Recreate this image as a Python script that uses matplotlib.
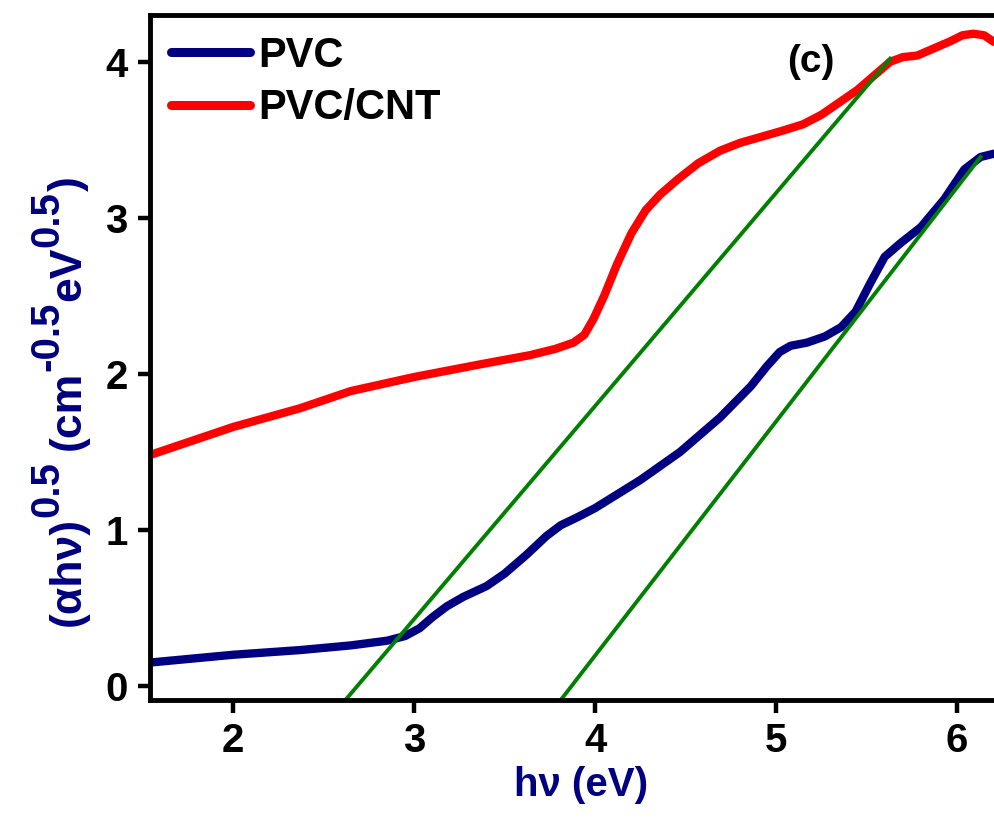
import matplotlib
matplotlib.use("Agg")
import matplotlib.pyplot as plt
from matplotlib.transforms import IdentityTransform

# photon energy (eV) and (alpha h nu)^0.5
pvc_x = [1.54, 2.0, 2.37, 2.65, 2.85, 2.95, 3.03, 3.10, 3.18, 3.27, 3.40,
         3.50, 3.62, 3.73, 3.81, 3.90, 4.0, 4.25, 4.47, 4.69, 4.86, 4.95,
         5.02, 5.08, 5.17, 5.27, 5.36, 5.44, 5.52, 5.60, 5.69, 5.80, 5.93,
         6.04, 6.13, 6.20, 6.30]
pvc_y = [0.15, 0.20, 0.23, 0.26, 0.29, 0.32, 0.37, 0.44, 0.51, 0.57, 0.64,
         0.72, 0.84, 0.96, 1.03, 1.08, 1.14, 1.32, 1.50, 1.72, 1.92, 2.05,
         2.14, 2.18, 2.20, 2.24, 2.30, 2.40, 2.58, 2.75, 2.84, 2.94, 3.12,
         3.31, 3.39, 3.41, 3.42]

cnt_x = [1.54, 2.0, 2.37, 2.65, 3.0, 3.36, 3.64, 3.78, 3.88, 3.94, 3.99,
         4.05, 4.12, 4.20, 4.28, 4.36, 4.46, 4.57, 4.69, 4.80, 4.92, 5.04,
         5.15, 5.25, 5.35, 5.45, 5.55, 5.63, 5.70, 5.78, 5.88, 5.96, 6.03,
         6.09, 6.15, 6.20, 6.30]
cnt_y = [1.48, 1.66, 1.78, 1.89, 1.98, 2.06, 2.12, 2.16, 2.20, 2.25, 2.35,
         2.50, 2.70, 2.90, 3.05, 3.15, 3.25, 3.35, 3.43, 3.48, 3.52, 3.56,
         3.60, 3.66, 3.74, 3.82, 3.92, 4.00, 4.03, 4.04, 4.09, 4.13, 4.17,
         4.18, 4.17, 4.13, 4.10]

# tangent (Tauc) lines
fit1_x = [2.62, 5.63]
fit1_y = [-0.09, 4.02]
fit2_x = [3.81, 6.13]
fit2_y = [-0.09, 3.39]

x_ticks = [2, 3, 4, 5, 6]
y_ticks = [0, 1, 2, 3, 4]

# y label pieces: (text, is_superscript)
ylabel_parts = [('(αhν)', False), ('0.5', True), (' ', False), ('(cm', False),
                ('-0.5', True), ('eV', False), ('0.5', True), (')', False)]

plt.rcParams['font.family'] = ['Liberation Sans', 'DejaVu Sans']
plt.rcParams['font.weight'] = 'bold'

navy = '#000080'

fig = plt.figure(figsize=(9.94, 8.23), dpi=100)
x0, x1 = 1.54, 6.30
left_px, bottom_px, top_px = 150, 700, 15
right_px = 233 + (x1 - 2) * 181
ax = fig.add_axes([left_px / 994, 1 - bottom_px / 823,
                   (right_px - left_px) / 994, (bottom_px - top_px) / 823])

ax.plot(pvc_x, pvc_y, color=navy, lw=6, label='PVC',
        solid_capstyle='round', solid_joinstyle='round')
ax.plot(cnt_x, cnt_y, color='#ff0000', lw=6, label='PVC/CNT',
        solid_capstyle='round', solid_joinstyle='round')
ax.plot(fit1_x, fit1_y, color='#008000', lw=2.8)
ax.plot(fit2_x, fit2_y, color='#008000', lw=2.8)

ax.set_xlim(x0, x1)
ax.set_ylim(-0.09, 4.30)
ax.set_xticks(x_ticks)
ax.set_yticks(y_ticks)
ax.tick_params(direction='out', length=9, width=3.2, labelsize=29, pad=7)
for sp in ax.spines.values():
    sp.set_linewidth(3.5)
ax.spines['right'].set_visible(False)

ax.set_xlabel('hν (eV)', fontsize=29, color=navy, fontweight='bold', labelpad=4)

ax.text(5.19, 4.0, '(c)', fontsize=28, fontweight='bold', ha='center', va='center')

leg = ax.legend(loc='upper left', bbox_to_anchor=(0.0, 1.0), frameon=False,
                fontsize=30, handlelength=1.9, handletextpad=0.2,
                labelspacing=0.3, borderaxespad=0.1)
for line in leg.get_lines():
    line.set_linewidth(6.5)

# rotated y label built piece by piece so the superscripts stay large
fig.canvas.draw()
renderer = fig.canvas.get_renderer()
base_x = 80          # baseline, display pixels
pos_y = 823 - 626    # start (bottom) of the label, display pixels
for s, sup in ylabel_parts:
    if s == ' ':
        pos_y += 11
        continue
    size = 29 if sup else 32
    tx = base_x - (22 if sup else 0)
    t = fig.text(tx, pos_y, s, transform=IdentityTransform(), rotation=90,
                 rotation_mode='anchor', ha='left', va='baseline',
                 fontsize=size, color=navy, fontweight='bold')
    pos_y += t.get_window_extent(renderer).height

fig.savefig('out.png', dpi=100)
